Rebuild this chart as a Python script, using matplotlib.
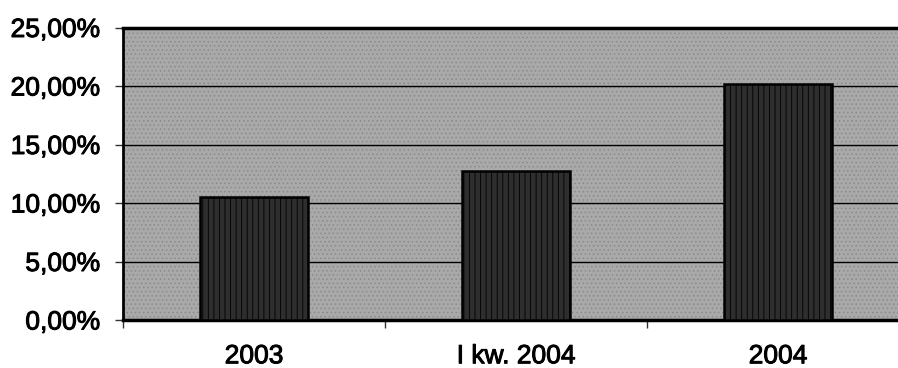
import matplotlib
matplotlib.use("Agg")
import matplotlib.pyplot as plt
import matplotlib.patheffects as pe
import numpy as np

categories = ["2003", "I kw. 2004", "2004"]
values = [0.105, 0.127, 0.202]
y_ticks = [0.0, 0.05, 0.10, 0.15, 0.20, 0.25]
y_tick_labels = ["0,00%", "5,00%", "10,00%", "15,00%", "20,00%", "25,00%"]

plt.rcParams['font.family'] = ['Liberation Sans', 'DejaVu Sans']
plt.rcParams['hatch.linewidth'] = 0.6

fig = plt.figure(figsize=(8.98, 3.68), dpi=100)
ax = fig.add_axes([123/898, 1 - 320/368, 786/898, 292.5/368])

ax.set_facecolor('#a9a9a9')
# background texture
ax.add_patch(plt.Rectangle((0, 0), 1, 1, transform=ax.transAxes, facecolor='none',
                           edgecolor='#8a8a8a', hatch='....', linewidth=0, zorder=0))

x = np.arange(len(categories))
ax.bar(x, values, width=0.41, color='#2e2e2e', edgecolor='black', linewidth=1.8,
       hatch='|||', zorder=3)

ax.set_xlim(-0.5, len(categories) - 0.5)
ax.set_ylim(0, 0.25)
ax.set_yticks(y_ticks)
ax.set_yticklabels(y_tick_labels, fontsize=19, color='black')
ax.set_xticks(x)
ax.set_xticklabels(categories, fontsize=19, color='black')
ax.set_xticks(np.arange(len(categories) + 1) - 0.5, minor=True)

stroke = [pe.withStroke(linewidth=0.7, foreground='black')]
for t in ax.get_xticklabels() + ax.get_yticklabels():
    t.set_path_effects(stroke)

ax.tick_params(axis='x', which='major', length=0, pad=17.5)
ax.tick_params(axis='x', which='minor', length=6, width=1, direction='out', color='#333333')
ax.tick_params(axis='y', length=6, width=1, direction='out', pad=10.5, color='#333333')

ax.yaxis.grid(True, color='black', linewidth=1.0, zorder=1)
ax.set_axisbelow(True)

ax.spines['top'].set_linewidth(2.5)
ax.spines['left'].set_linewidth(2.0)
ax.spines['bottom'].set_linewidth(2.5)
ax.spines['right'].set_visible(False)

fig.savefig("out.png", dpi=100)
